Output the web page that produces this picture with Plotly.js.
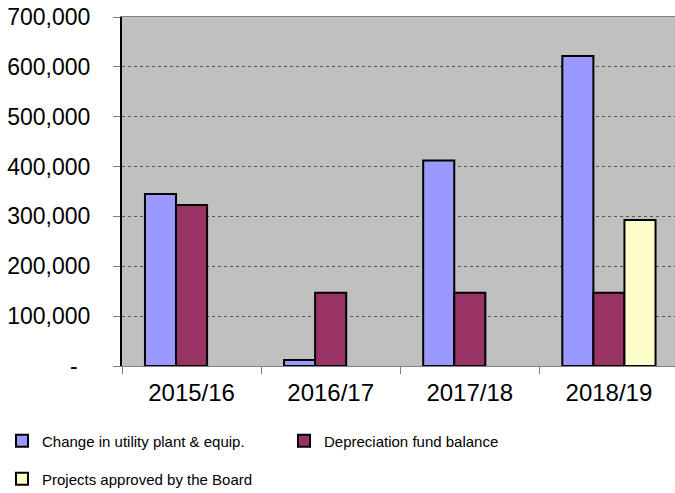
<!DOCTYPE html>
<html>
<head>
<meta charset="utf-8">
<script src="https://cdn.plot.ly/plotly-3.0.1.min.js"></script>
<style>html,body{margin:0;padding:0;background:#fff;}#chart{width:675px;height:493px;}</style>
</head>
<body>
<div id="chart"></div>
<script>
const categories = ["2015/16", "2016/17", "2017/18", "2018/19"];
const changeInPlant = [345000, 12000, 412000, 622000];
const depreciationFund = [323000, 147000, 147000, 147000];
const projectsApproved = [null, null, null, 293000];
const yTickVals = [0, 100000, 200000, 300000, 400000, 500000, 600000, 700000];
const yTickText = ["-\u00a0\u00a0", "100,000", "200,000", "300,000", "400,000", "500,000", "600,000", "700,000"];

const font = "Liberation Sans, Arial, sans-serif";
const outline = {color: "#000000", width: 2};

const traces = [
  {type: "bar", x: categories, y: changeInPlant, name: "Change in utility plant & equip.",
   marker: {color: "#9999FF", line: outline}, legend: "legend"},
  {type: "bar", x: categories, y: depreciationFund, name: "Depreciation fund balance",
   marker: {color: "#993366", line: outline}, legend: "legend2"},
  {type: "bar", x: categories, y: projectsApproved, name: "Projects approved by the Board",
   marker: {color: "#FFFFCC", line: outline}, legend: "legend3"}
];

function leg(x, y) {
  return {
    orientation: "h", xref: "container", yref: "container",
    x: x / 675, y: 1 - y / 493, xanchor: "left", yanchor: "middle",
    font: {size: 15, family: font}, itemwidth: 30, bgcolor: "rgba(0,0,0,0)"
  };
}

const layout = {
  width: 675, height: 493,
  margin: {l: 122, r: 0, t: 17, b: 127},
  paper_bgcolor: "#FFFFFF",
  plot_bgcolor: "#C0C0C0",
  font: {family: font, color: "#000000"},
  showlegend: true,
  barmode: "group",
  bargap: 0.33,
  bargroupgap: 0,
  hovermode: false,
  xaxis: {
    type: "category",
    range: [-0.5, 3.475],
    showgrid: false,
    showline: true, linecolor: "#808080", linewidth: 1, mirror: true,
    ticks: "outside", tickson: "boundaries", ticklen: 7, tickcolor: "#808080",
    ticklabelstandoff: 5,
    tickfont: {size: 24, family: font},
    zeroline: false
  },
  yaxis: {
    range: [0, 700000],
    tickvals: yTickVals, ticktext: yTickText,
    showgrid: true, gridcolor: "#555555", griddash: "dot", gridwidth: 1,
    showline: true, linecolor: "#000000", linewidth: 2,
    ticks: "outside", ticklen: 7, tickcolor: "#808080",
    ticklabelstandoff: 18,
    tickfont: {size: 23, family: font},
    zeroline: false
  },
  legend: leg(2, 441),
  legend2: leg(284, 441),
  legend3: leg(2, 479)
};

Plotly.newPlot("chart", traces, layout, {displayModeBar: false, staticPlot: true});
</script>
</body>
</html>
